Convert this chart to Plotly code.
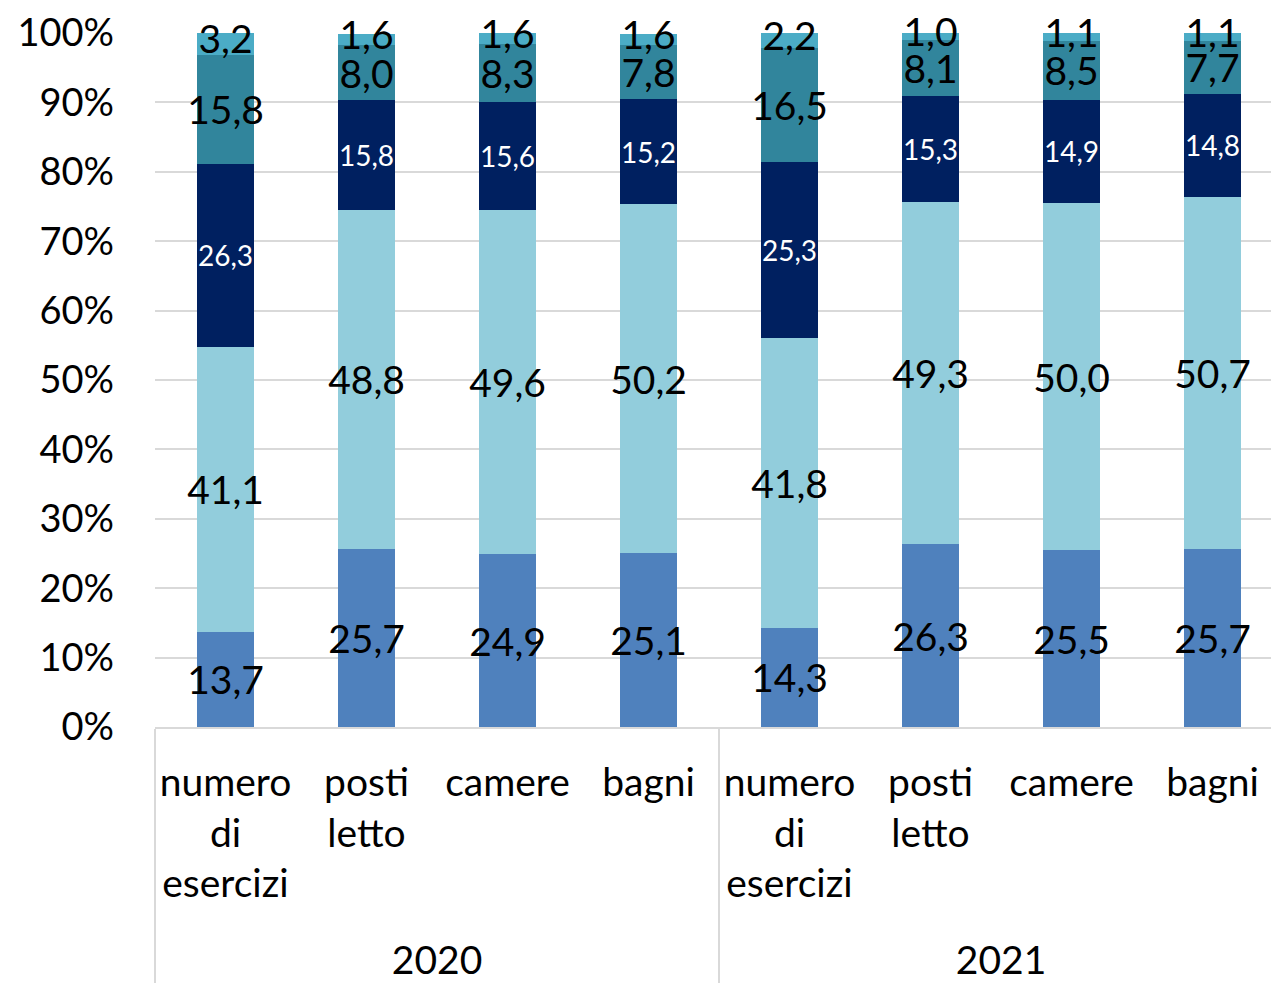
import plotly.graph_objects as go

years = ["2020"] * 4 + ["2021"] * 4
items = ["numero<br>di<br>esercizi<br><span style='font-size:28px'>\u00a0</span>",
         "posti<br>letto", "camere", "bagni"] * 2

s1 = [13.7, 25.7, 24.9, 25.1, 14.3, 26.3, 25.5, 25.7]
s2 = [41.1, 48.8, 49.6, 50.2, 41.8, 49.3, 50.0, 50.7]
s3 = [26.3, 15.8, 15.6, 15.2, 25.3, 15.3, 14.9, 14.8]
s4 = [15.8, 8.0, 8.3, 7.8, 16.5, 8.1, 8.5, 7.7]
s5 = [3.2, 1.6, 1.6, 1.6, 2.2, 1.0, 1.1, 1.1]

series = [s1, s2, s3, s4, s5]
colors = ["#4F81BD", "#92CDDC", "#002060", "#31859C", "#4BACC6"]
text_colors = ["black", "black", "white", "black", "black"]
text_sizes = [39, 39, 28, 39, 39]

FONT = "Lato"


def fmt(vals):
    return [f"{v:.1f}".replace(".", ",") for v in vals]


fig = go.Figure()
for i, (vals, col, tc, ts) in enumerate(zip(series, colors, text_colors, text_sizes)):
    last = i == len(series) - 1
    fig.add_trace(go.Bar(
        x=[years, items],
        y=[v / 100 for v in vals],
        marker=dict(color=col, line=dict(width=0)),
        text=None if last else fmt(vals),
        textposition="inside",
        insidetextanchor="middle",
        textangle=0,
        constraintext="none",
        textfont=dict(color=tc, size=ts, family=FONT),
        cliponaxis=False,
        hoverinfo="skip",
    ))

# labels of the thin top segment, placed at the segment middle
totals_below = [a + b + c + d for a, b, c, d in zip(s1, s2, s3, s4)]
fig.add_trace(go.Scatter(
    x=[years, items],
    y=[(t + v / 2) / 100 for t, v in zip(totals_below, s5)],
    mode="text",
    text=fmt(s5),
    textposition="middle center",
    textfont=dict(color=text_colors[4], size=text_sizes[4], family=FONT),
    cliponaxis=False,
    hoverinfo="skip",
))

fig.update_layout(
    barmode="stack",
    bargap=0.595,
    width=1279,
    height=987,
    margin=dict(l=147, r=4, t=25, b=268),
    plot_bgcolor="white",
    paper_bgcolor="white",
    showlegend=False,
    font=dict(family=FONT, size=39, color="black"),
)
fig.update_yaxes(
    range=[0, 1],
    tickformat=".0%",
    dtick=0.1,
    showgrid=True,
    gridcolor="#D9D9D9",
    gridwidth=2,
    zeroline=False,
    showline=False,
    tickfont=dict(size=38, family=FONT, color="black"),
    ticks="",
    ticklabelstandoff=40,
    automargin=False,
)
fig.update_xaxes(
    type="multicategory",
    showline=True,
    linecolor="#D9D9D9",
    linewidth=2,
    showdividers=True,
    dividercolor="#D9D9D9",
    dividerwidth=2,
    tickfont=dict(size=39, family=FONT, color="black"),
    tickangle=0,
    ticks="",
    ticklabelstandoff=20,
    automargin=False,
)

fig.write_html("out.html")
